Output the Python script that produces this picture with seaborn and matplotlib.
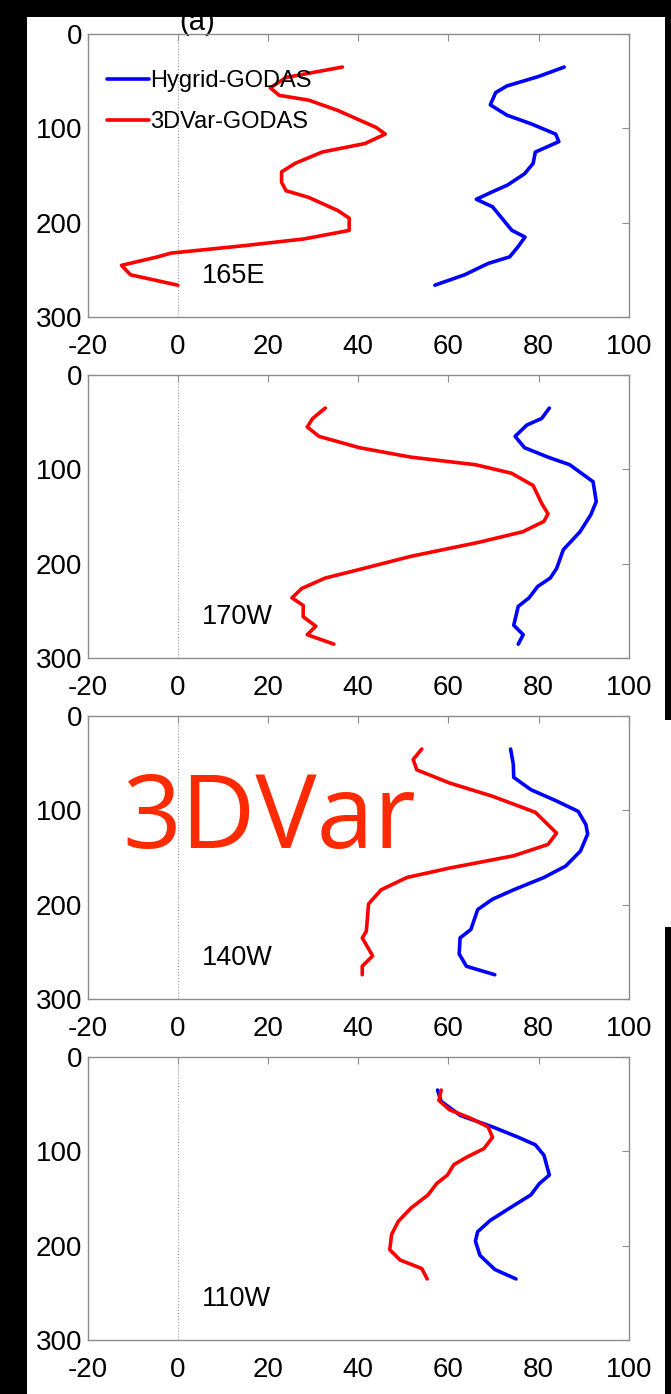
import matplotlib
matplotlib.use('Agg')
import matplotlib.pyplot as plt
import matplotlib.transforms as mtransforms
from matplotlib.patches import Rectangle
import seaborn as sns
import pandas as pd

# Profiles (depth in m, value)
depth_hy_165e = [35, 45, 55, 62, 75, 86, 95, 106, 114, 125, 137, 148, 160, 167, 175, 183, 197, 208, 215, 225, 236, 243, 255, 266]
hy_165e = [85.7, 80, 73, 70.5, 69.3, 73, 78.3, 83.8, 84.5, 79.3, 78.8, 76.9, 73.1, 69.8, 66.2, 69.8, 72.2, 74.1, 77, 75.5, 73.6, 68.8, 63.6, 57]
depth_3d_165e = [35, 46, 57, 65, 70, 81, 99, 106, 116, 125, 137, 146, 157, 166, 173, 187, 195, 208, 217, 224, 232, 236, 245, 255, 266]
v3d_165e = [36.5, 24, 20.5, 22.5, 29, 35.5, 44, 46, 41.5, 32, 26, 23, 23, 24, 29, 35.5, 38, 38, 28, 15, -1.5, -4.5, -12.5, -10.5, 0]

depth_hy_170w = [35, 46, 53, 65, 77, 87, 95, 113, 134, 148, 166, 185, 205, 215, 224, 236, 245, 265, 275, 285]
hy_170w = [82.4, 80.7, 77.4, 74.8, 76.9, 82.1, 86.9, 92.1, 92.8, 91.6, 89.2, 85.5, 84, 82.6, 79.8, 77.9, 75.5, 74.5, 76.6, 75.5]
depth_3d_170w = [35, 46, 55, 65, 77, 87, 95, 104, 117, 136, 147, 155, 166, 177, 192, 207, 215, 226, 236, 244, 256, 266, 275, 285]
v3d_170w = [32.7, 29.9, 28.7, 31.3, 40.3, 51.7, 66, 74, 78.8, 80.7, 82.1, 81.2, 76.5, 66.9, 51.7, 39.4, 32.7, 27.5, 25.3, 27.8, 27.8, 30.6, 28.7, 34.6]

depth_hy_140w = [35, 51, 65, 78, 90, 101, 115, 125, 143, 159, 171, 184, 194, 205, 226, 235, 252, 265, 274]
hy_140w = [73.8, 74.4, 74.5, 78.3, 84, 88.8, 90.5, 90.9, 89.3, 86, 81.2, 74.5, 69.8, 66.5, 65, 62.6, 62.4, 64, 70.3]
depth_3d_140w = [35, 46, 57, 71, 85, 102, 124, 136, 148, 161, 171, 184, 199, 228, 235, 254, 265, 274]
v3d_140w = [54.1, 52.2, 53, 60.3, 69.8, 79.3, 84, 82.1, 74.5, 60.3, 50.8, 45.1, 42.3, 41.8, 40.9, 43.2, 40.9, 40.9]

depth_hy_110w = [35, 47, 62, 74, 85, 93, 104, 125, 134, 146, 160, 173, 185, 195, 210, 225, 235]
hy_110w = [57.6, 58.4, 62.7, 69.8, 75.5, 79.3, 81.2, 82.4, 80.2, 78.3, 73.6, 69.3, 66.5, 66, 67, 70.3, 75]
depth_3d_110w = [35, 46, 56, 65, 74, 85, 97, 106, 114, 125, 134, 146, 160, 174, 188, 204, 215, 224, 235]
v3d_110w = [58.4, 57.9, 60.3, 65, 68.8, 69.8, 67.9, 64.1, 61.2, 59.8, 57.4, 55.5, 51.7, 48.9, 47.4, 47, 49.3, 54.1, 55.3]

locations = ['165E', '170W', '140W', '110W']
series = {
    '165E': [(depth_hy_165e, hy_165e), (depth_3d_165e, v3d_165e)],
    '170W': [(depth_hy_170w, hy_170w), (depth_3d_170w, v3d_170w)],
    '140W': [(depth_hy_140w, hy_140w), (depth_3d_140w, v3d_140w)],
    '110W': [(depth_hy_110w, hy_110w), (depth_3d_110w, v3d_110w)],
}
products = ['Hygrid-GODAS', '3DVar-GODAS']
palette = {'Hygrid-GODAS': '#0000ff', '3DVar-GODAS': '#ff0000'}

frames = []
for loc in locations:
    for prod, (d, v) in zip(products, series[loc]):
        frames.append(pd.DataFrame({'loc': loc, 'product': prod, 'depth': d, 'value': v}))
df = pd.concat(frames, ignore_index=True)

sns.set_style('white')
plt.rcParams['font.family'] = ['Liberation Sans', 'DejaVu Sans']
plt.rcParams['axes.unicode_minus'] = False
plt.rcParams['text.color'] = 'black'

W, H = 671, 1394
fig = plt.figure(figsize=(W / 100, H / 100), dpi=100, facecolor='black')

# white page area of the screenshot
fig.add_artist(Rectangle((27 / W, 0), (665 - 27) / W, 1 - 16.7 / H, transform=fig.transFigure,
                         facecolor='white', edgecolor='none', zorder=-5))
fig.add_artist(Rectangle((665 / W, 1 - 927 / H), 6 / W, (927 - 720) / H, transform=fig.transFigure,
                         facecolor='white', edgecolor='none', zorder=-5))

ax_left = 87.7 / W
ax_w = 541 / W
ax_h = 283.3 / H
tops = [34, 375, 716, 1057]

for i, loc in enumerate(locations):
    ax = fig.add_axes([ax_left, 1 - (tops[i] + 283.3) / H, ax_w, ax_h])
    ax.set_facecolor('white')
    ax.axvline(0, color='#9a9a9a', lw=0.8, ls=':', zorder=1)
    sub = df[df['loc'] == loc]
    sns.lineplot(data=sub, x='value', y='depth', hue='product', hue_order=products,
                 palette=palette, sort=False, estimator=None, lw=2.6, ax=ax,
                 legend=(i == 0), zorder=3)
    ax.set_xlim(-20, 100)
    ax.set_ylim(300, 0)
    ax.set_xticks(range(-20, 101, 20))
    ax.set_yticks([0, 100, 200, 300])
    ax.set_xlabel('')
    ax.set_ylabel('')
    for s in ax.spines.values():
        s.set_color('#8c8c8c')
        s.set_linewidth(1.0)
    ax.tick_params(direction='in', length=5, width=0.8, color='#8c8c8c',
                   top=True, right=True, labelsize=20, labelcolor='black')
    ax.tick_params(axis='x', pad=12)
    ax.tick_params(axis='y', pad=4)
    ax.text(5.3, 256, loc, ha='left', va='center', fontsize=19.5, color='black')

    if i == 0:
        handles, labels = ax.get_legend_handles_labels()
        leg = ax.legend(handles, labels, loc='upper left', bbox_to_anchor=(0.0357, 0.872),
                        frameon=False, fontsize=17, handlelength=1.77, handletextpad=0.05,
                        labelspacing=0.8, borderpad=0, borderaxespad=0)
        for t in leg.get_texts():
            t.set_color('black')
        trans = mtransforms.blended_transform_factory(ax.transData, ax.transAxes)
        ax.text(4.2, 1.014, '(a)', transform=trans, ha='center', va='baseline',
                fontsize=21, color='black', zorder=-1)

fig.text(122 / W, 1 - 848 / H, '3DVar', fontsize=74, color='#ff2a00',
         family=['Open Sans', 'DejaVu Sans'], ha='left', va='baseline')

fig.savefig('out.png', dpi=100, facecolor='black')
